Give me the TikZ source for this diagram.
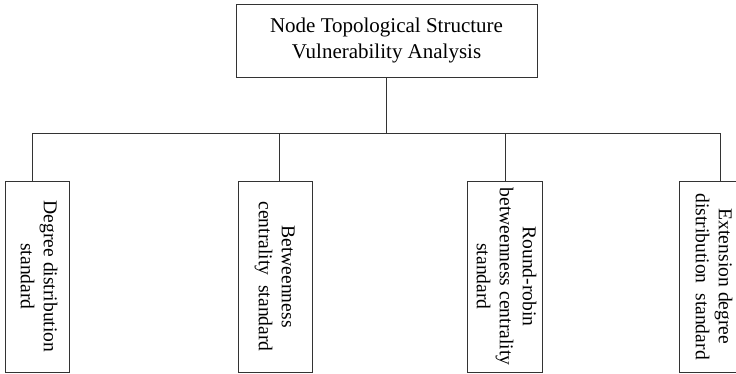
\documentclass[tikz,border=0pt]{standalone}
\usepackage{fontspec}
\usepackage{graphicx}
\setmainfont{Liberation Serif}
\begin{document}
\begin{tikzpicture}[x=1pt,y=1pt,
  box/.style={draw=black!80, line width=0.9pt, inner sep=0pt, align=center},
  link/.style={draw=black!80, line width=0.9pt},
  toptext/.style={font=\fontsize{21}{26}\selectfont},
  childtext/.style={font=\fontsize{19.6}{23}\selectfont}]
\clip (0,0) rectangle (736,-373);
\useasboundingbox (0,0) rectangle (736,-373);
\node[box, toptext, minimum width=301pt, minimum height=73pt] (top) at (386.5,-40.5)
  {Node Topological Structure\\Vulnerability Analysis};
\coordinate (bus) at (387,-133);
\node[box, childtext, minimum width=64pt, minimum height=191pt] (c1) at (37,-276.5)
  {\rotatebox{-90}{\begin{tabular}{@{}c@{}}Degree distribution\\standard\end{tabular}}};
\node[box, childtext, minimum width=74pt, minimum height=191pt] (c2) at (275,-276.5)
  {\rotatebox{-90}{\begin{tabular}{@{}c@{}}Betweenness\\centrality\ \ standard\end{tabular}}};
\node[box, childtext, minimum width=75pt, minimum height=191pt] (c3) at (504.5,-276.5)
  {\rotatebox{-90}{\begin{tabular}{@{}c@{}}Round-robin\\betweenness centrality\\standard\end{tabular}}};
\node[box, childtext, minimum width=66pt, minimum height=191pt] (c4) at (712,-276.5)
  {\rotatebox{-90}{\begin{tabular}{@{}c@{}}Extension degree\\distribution\ \ standard\end{tabular}}};
\draw[link] (top.south) -- (top.south |- bus);
\draw[link] ([xshift=-5pt]c1.north) |- (bus);
\draw[link] ([xshift=4pt]c2.north) |- (bus);
\draw[link] ([xshift=0.5pt]c3.north) |- (bus);
\draw[link] ([xshift=8pt]c4.north) |- (bus);
\end{tikzpicture}
\end{document}
